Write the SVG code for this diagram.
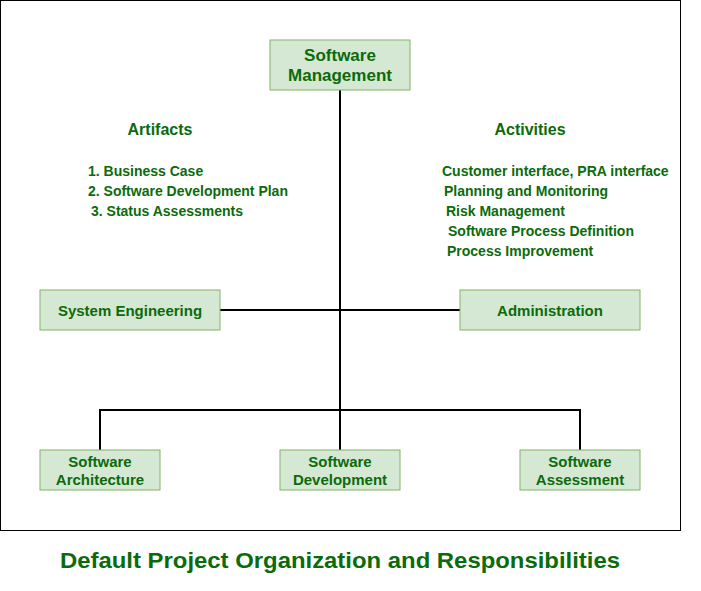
<svg xmlns="http://www.w3.org/2000/svg" width="701" height="591" viewBox="0 0 701 591">
<style>
.box{fill:#d5e8d4;stroke:#82b366;stroke-width:1}
.t{font-family:"Liberation Sans",Arial,sans-serif;font-weight:bold;fill:#0b6b0b}
.n{font-size:15px;text-anchor:middle}
.l{font-size:14px}
.h{font-size:16px;text-anchor:middle}
.c{fill:none;stroke:#000;stroke-width:2}
</style>
<rect x="0.5" y="0.5" width="680" height="530" fill="#fff" stroke="#000" stroke-width="1"/>
<g id="connectors">
<path class="c" d="M340 90V450"/>
<path class="c" d="M220 310H460"/>
<path class="c" d="M100 450V410H580V450"/>
</g>
<g id="software-management">
<rect class="box" x="270" y="40" width="140" height="50"/>
<text class="t n" x="340" y="61" style="font-size:17px">Software</text>
<text class="t n" x="340" y="81" style="font-size:17px">Management</text>
</g>
<g id="system-engineering">
<rect class="box" x="40" y="290" width="180" height="40"/>
<text class="t n" x="130" y="316">System Engineering</text>
</g>
<g id="administration">
<rect class="box" x="460" y="290" width="180" height="40"/>
<text class="t n" x="550" y="316">Administration</text>
</g>
<g id="software-architecture">
<rect class="box" x="40" y="450" width="120" height="40"/>
<text class="t n" x="100" y="467">Software</text>
<text class="t n" x="100" y="485">Architecture</text>
</g>
<g id="software-development">
<rect class="box" x="280" y="450" width="120" height="40"/>
<text class="t n" x="340" y="467">Software</text>
<text class="t n" x="340" y="485">Development</text>
</g>
<g id="software-assessment">
<rect class="box" x="520" y="450" width="120" height="40"/>
<text class="t n" x="580" y="467">Software</text>
<text class="t n" x="580" y="485">Assessment</text>
</g>
<g id="artifacts">
<text class="t h" x="160" y="135">Artifacts</text>
<text class="t l" x="88" y="176">1. Business Case</text>
<text class="t l" x="88" y="196">2. Software Development Plan</text>
<text class="t l" x="91" y="216">3. Status Assessments</text>
</g>
<g id="activities">
<text class="t h" x="530" y="135">Activities</text>
<text class="t l" x="442" y="176">Customer interface, PRA interface</text>
<text class="t l" x="444" y="196">Planning and Monitoring</text>
<text class="t l" x="446" y="216">Risk Management</text>
<text class="t l" x="448" y="236">Software Process Definition</text>
<text class="t l" x="447" y="256">Process Improvement</text>
</g>
<text class="t" x="340" y="568" text-anchor="middle" font-size="22" textLength="560" lengthAdjust="spacingAndGlyphs">Default Project Organization and Responsibilities</text>
</svg>
